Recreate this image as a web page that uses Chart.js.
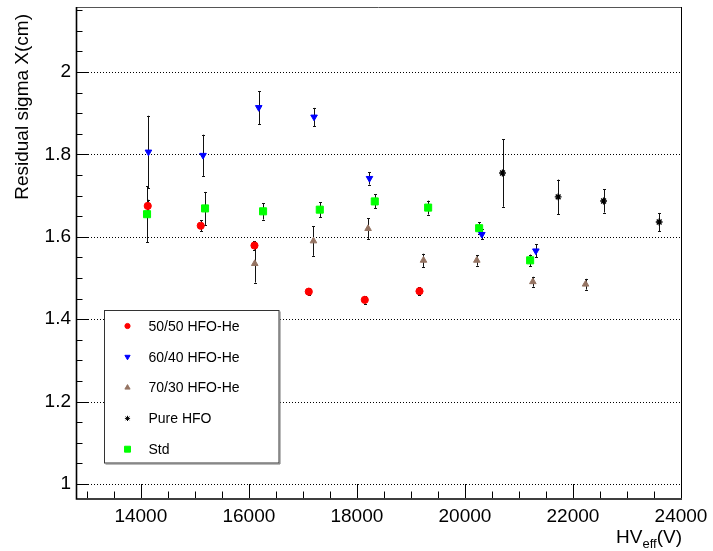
<!DOCTYPE html>
<html>
<head>
<meta charset="utf-8">
<script src="https://cdn.jsdelivr.net/npm/chart.js@4.4.1/dist/chart.umd.min.js"></script>
<style>
  html, body { margin: 0; padding: 0; background: #fff; }
  #wrap { width: 713px; height: 551px; }
</style>
</head>
<body>
<div id="wrap"><canvas id="c" width="713" height="551"></canvas></div>
<script>
// HV_eff (V), residual sigma X (cm) and its error for each gas mixture
const hv5050 = [14128, 15109, 16104, 17109, 18146, 19159];
const res5050 = [1.675, 1.627, 1.579, 1.467, 1.447, 1.468];
const err5050 = [0.015, 0.013, 0.010, 0.008, 0.009, 0.010];

const hv6040 = [14141, 15152, 16183, 17207, 18233, 20313, 21313];
const res6040 = [1.806, 1.798, 1.914, 1.891, 1.742, 1.606, 1.566];
const err6040 = [0.088, 0.050, 0.040, 0.022, 0.015, 0.012, 0.016];

const hv7030 = [16109, 17196, 18207, 19233, 20220, 21257, 22233];
const res7030 = [1.535, 1.590, 1.620, 1.543, 1.543, 1.491, 1.485];
const err7030 = [0.046, 0.036, 0.025, 0.016, 0.013, 0.012, 0.013];

const hvPure = [20696, 21726, 22567, 23596];
const resPure = [1.755, 1.697, 1.687, 1.636];
const errPure = [0.082, 0.042, 0.028, 0.022];

const hvStd = [14115, 15189, 16263, 17313, 18331, 19319, 20263, 21207];
const resStd = [1.655, 1.669, 1.662, 1.666, 1.686, 1.671, 1.621, 1.543];
const errStd = [0.068, 0.040, 0.020, 0.018, 0.017, 0.017, 0.015, 0.014];

const xTicks = [14000, 16000, 18000, 20000, 22000, 24000];
const yTicks = [1, 1.2, 1.4, 1.6, 1.8, 2];

const FONT = "'Liberation Sans', Arial, Helvetica, sans-serif";

function points(xs, ys) {
    return xs.map((x, i) => ({ x: x, y: ys[i] }));
}

// series description, also used for the legend inside the frame
const series = [
    { label: "50/50 HFO-He", hv: hv5050, res: res5050, err: err5050, color: "#ff0000", style: "circle", r: 3.6, rot: 0, lr: 2.6 },
    { label: "60/40 HFO-He", hv: hv6040, res: res6040, err: err6040, color: "#0000ff", style: "triangle", r: 3.8, rot: 180, lr: 3 },
    { label: "70/30 HFO-He", hv: hv7030, res: res7030, err: err7030, color: "#957463", style: "triangle", r: 3.8, rot: 0, lr: 3 },
    { label: "Pure HFO", hv: hvPure, res: resPure, err: errPure, color: "#000000", style: "star", r: 3.4, rot: 0, lr: 2.6 },
    { label: "Std", hv: hvStd, res: resStd, err: errStd, color: "#00ff00", style: "rect", r: 5, rot: 0, lr: 4.2 },
];

// error bars, grid, inner ticks, frame, legend and axis titles (ROOT look)
const rootStyle = {
    id: "rootStyle",
    beforeDatasetsDraw(chart) {
        const { ctx, chartArea: a, scales: { x, y } } = chart;
        ctx.save();
        // dotted horizontal grid at major y ticks
        ctx.strokeStyle = "#000";
        ctx.lineWidth = 1;
        ctx.setLineDash([1, 2]);
        yTicks.forEach((v) => {
            const py = Math.round(y.getPixelForValue(v)) + 0.5;
            ctx.beginPath();
            ctx.moveTo(a.left, py);
            ctx.lineTo(a.right, py);
            ctx.stroke();
        });
        ctx.setLineDash([]);

        // error bars
        ctx.strokeStyle = "#111";
        chart.data.datasets.forEach((ds) => {
            ds.data.forEach((p, i) => {
                const e = ds.errors[i];
                const px = Math.round(x.getPixelForValue(p.x)) + 0.5;
                const top = y.getPixelForValue(p.y + e);
                const bot = y.getPixelForValue(p.y - e);
                ctx.beginPath();
                ctx.moveTo(px, top);
                ctx.lineTo(px, bot);
                ctx.moveTo(px - 1.5, Math.round(top) + 0.5);
                ctx.lineTo(px + 1.5, Math.round(top) + 0.5);
                ctx.moveTo(px - 1.5, Math.round(bot) + 0.5);
                ctx.lineTo(px + 1.5, Math.round(bot) + 0.5);
                ctx.stroke();
            });
        });
        ctx.restore();
    },
    afterDatasetsDraw(chart) {
        const { ctx, chartArea: a, scales: { x, y } } = chart;
        ctx.save();

        // frame
        ctx.strokeStyle = "#555";
        ctx.lineWidth = 1;
        ctx.beginPath();
        ctx.moveTo(a.left, a.top + 0.5);
        ctx.lineTo(a.right, a.top + 0.5);
        ctx.stroke();
        ctx.strokeStyle = "#000";
        ctx.beginPath();
        ctx.moveTo(a.right + 0.5, a.top);
        ctx.lineTo(a.right + 0.5, a.bottom);
        ctx.stroke();
        ctx.lineWidth = 1.6;
        ctx.beginPath();
        ctx.moveTo(a.left + 0.5, a.top);
        ctx.lineTo(a.left + 0.5, a.bottom + 1);
        ctx.lineTo(a.right + 1, a.bottom + 1);
        ctx.stroke();

        // inner ticks on y axis
        ctx.lineWidth = 1;
        for (let v = 1; v <= y.max; v += 0.05) {
            const major = Math.abs(v * 5 - Math.round(v * 5)) < 1e-6;
            const py = Math.round(y.getPixelForValue(v)) + 0.5;
            ctx.beginPath();
            ctx.moveTo(a.left, py);
            ctx.lineTo(a.left + (major ? 13 : 6.5), py);
            ctx.stroke();
        }
        // inner ticks on x axis
        for (let v = 13000; v <= x.max; v += 500) {
            const major = v % 2000 === 0;
            const px = Math.round(x.getPixelForValue(v)) + 0.5;
            ctx.beginPath();
            ctx.moveTo(px, a.bottom);
            ctx.lineTo(px, a.bottom - (major ? 14 : 6.5));
            ctx.stroke();
        }

        // legend box
        const lx = 104.5, ly = 310.5, lw = 174.5, lh = 152.5;
        ctx.fillStyle = "#fff";
        ctx.fillRect(lx, ly, lw, lh);
        ctx.strokeStyle = "#333";
        ctx.lineWidth = 1;
        ctx.strokeRect(lx, ly, lw, lh);
        ctx.beginPath();
        ctx.moveTo(lx + 1, ly + lh + 1);
        ctx.lineTo(lx + lw + 1, ly + lh + 1);
        ctx.lineTo(lx + lw + 1, ly + 1);
        ctx.strokeStyle = "#777";
        ctx.stroke();

        ctx.font = "14px " + FONT;
        ctx.textAlign = "left";
        ctx.textBaseline = "middle";
        series.forEach((s, i) => {
            const ey = 326 + i * 30.8;
            ctx.fillStyle = s.color;
            ctx.strokeStyle = s.color;
            Chart.helpers.drawPoint(ctx, {
                pointStyle: s.style,
                radius: s.lr,
                rotation: s.rot,
                borderWidth: s.style === "star" ? 1.2 : 1,
            }, 127.5, ey);
            ctx.fillStyle = "#000";
            ctx.fillText(s.label, 148.5, ey + 1);
        });

        // y axis title, aligned at the top end
        ctx.fillStyle = "#000";
        ctx.font = "19px " + FONT;
        ctx.save();
        ctx.translate(28, 14);
        ctx.rotate(-Math.PI / 2);
        ctx.textAlign = "right";
        ctx.textBaseline = "alphabetic";
        ctx.fillText("Residual sigma X(cm)", 0, 0);
        ctx.restore();

        // x axis title HV_eff(V), aligned at the right end
        ctx.textAlign = "left";
        ctx.textBaseline = "alphabetic";
        ctx.font = "19px " + FONT;
        const wHV = ctx.measureText("HV").width;
        const wV = ctx.measureText("(V)").width;
        ctx.font = "13px " + FONT;
        const wSub = ctx.measureText("eff").width;
        let tx = 682 - (wHV + wSub + wV);
        const base = 543;
        ctx.font = "19px " + FONT;
        ctx.fillText("HV", tx, base);
        tx += wHV;
        ctx.font = "13px " + FONT;
        ctx.fillText("eff", tx, base + 5);
        tx += wSub;
        ctx.font = "19px " + FONT;
        ctx.fillText("(V)", tx, base);

        ctx.restore();
    },
};

function noPad(s) {
    s.paddingTop = 0;
    s.paddingBottom = 0;
    s.paddingLeft = 0;
    s.paddingRight = 0;
}

const ctx = document.getElementById("c").getContext("2d");
new Chart(ctx, {
    type: "scatter",
    data: {
        datasets: series.map((s) => ({
            label: s.label,
            data: points(s.hv, s.res),
            errors: s.err,
            backgroundColor: s.color,
            borderColor: s.color,
            pointStyle: s.style,
            pointRadius: s.r,
            rotation: s.rot,
            pointBorderWidth: s.style === "star" ? 1.4 : 1,
        })),
    },
    options: {
        responsive: false,
        animation: false,
        devicePixelRatio: 1,
        events: [],
        layout: { padding: { top: 7, right: 32, left: 0, bottom: 0 } },
        plugins: {
            legend: { display: false },
            tooltip: { enabled: false },
        },
        scales: {
            x: {
                type: "linear",
                min: 12800,
                max: 24000,
                afterBuildTicks: (s) => { s.ticks = xTicks.map((v) => ({ value: v })); },
                afterFit: (s) => { s.height = 53; noPad(s); },
                grid: { display: false, drawTicks: false },
                border: { display: false },
                ticks: {
                    color: "#000",
                    font: { family: FONT, size: 19 },
                    padding: 7,
                    maxRotation: 0,
                    autoSkip: false,
                    callback: (v) => String(v),
                },
            },
            y: {
                type: "linear",
                min: 0.966,
                max: 2.158,
                afterBuildTicks: (s) => { s.ticks = yTicks.map((v) => ({ value: v })); },
                afterFit: (s) => { s.width = 76; noPad(s); },
                grid: { display: false, drawTicks: false },
                border: { display: false },
                ticks: {
                    color: "#000",
                    font: { family: FONT, size: 19 },
                    padding: 5,
                    autoSkip: false,
                    callback: (v) => String(v),
                },
            },
        },
    },
    plugins: [rootStyle],
});
</script>
</body>
</html>
